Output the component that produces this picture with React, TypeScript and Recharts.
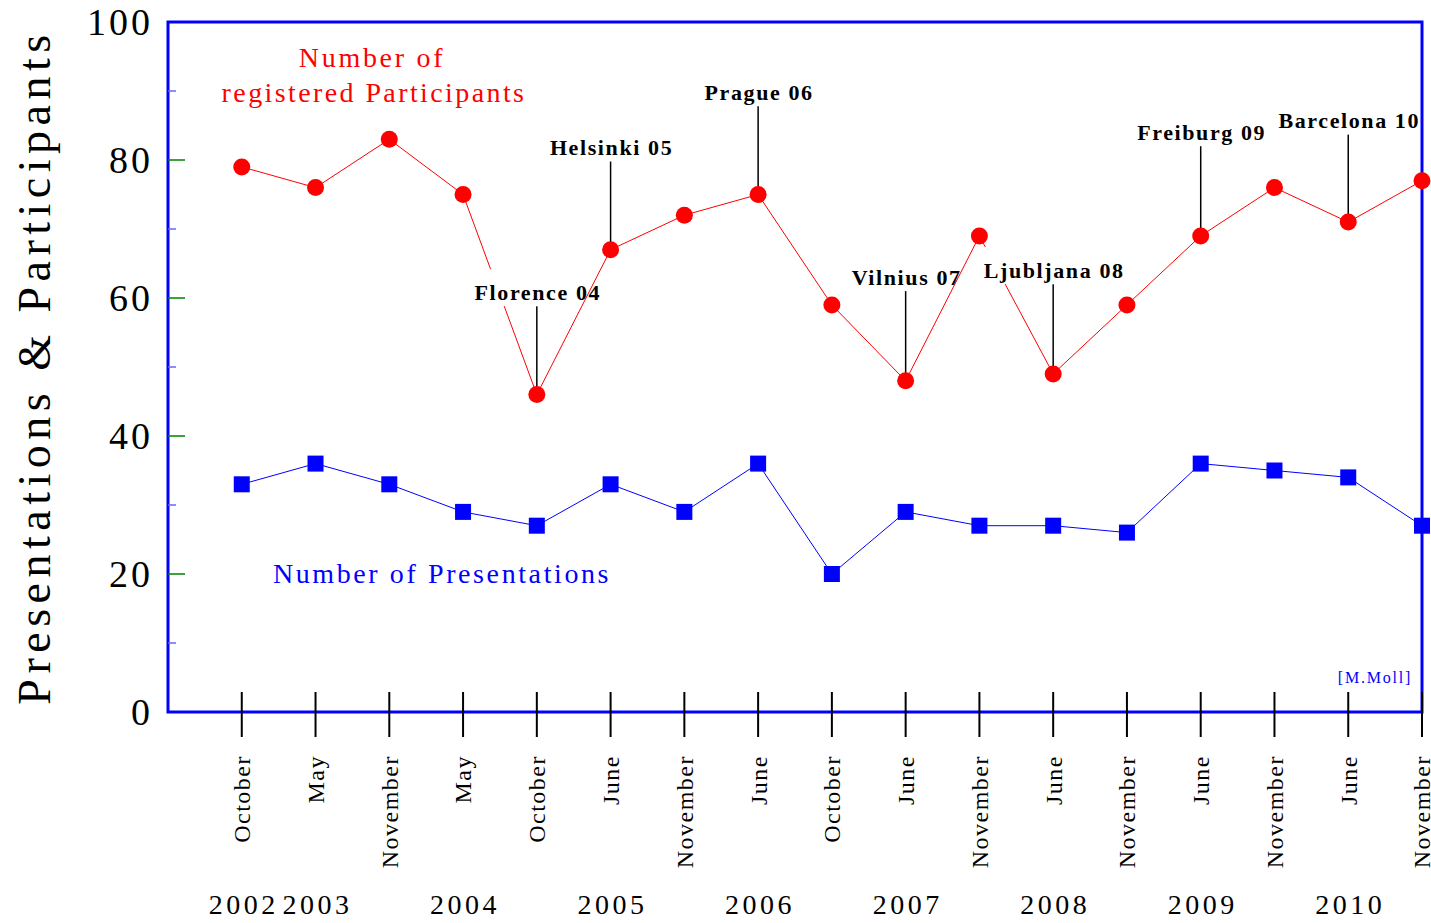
import React from "react";
import {
  ComposedChart,
  Line,
  Scatter,
  XAxis,
  YAxis,
  ReferenceArea,
  ReferenceLine,
} from "recharts";

const months = [
  "October", "May", "November", "May", "October", "June", "November", "June",
  "October", "June", "November", "June", "November", "June", "November", "June", "November",
];
const years = ["2002", "2003", "", "2004", "", "2005", "", "2006", "", "2007", "", "2008", "", "2009", "", "2010", ""];
const participants = [79, 76, 83, 75, 46, 67, 72, 75, 59, 48, 69, 49, 59, 69, 76, 71, 77];
const presentations = [33, 36, 33, 29, 27, 33, 29, 36, 20, 29, 27, 27, 26, 36, 35, 34, 27];

const meetingNames = ["Florence 04", "Helsinki 05", "Prague 06", "Vilnius 07", "Ljubljana 08", "Freiburg 09", "Barcelona 10"];
const meetingIndex = [4, 5, 7, 9, 11, 13, 15];
const meetingLabelLevel = [59.7, 80.7, 88.7, 61.9, 62.9, 82.9, 84.6];

const yTicks = [0, 10, 20, 30, 40, 50, 60, 70, 80, 90, 100];
const yLabels = [0, 20, 40, 60, 80, 100];
const xTicks = months.map((_, i) => i);

const chartData = months.map((m, i) => ({
  x: i,
  participants: participants[i],
  presentations: presentations[i],
}));

const annotationData = meetingNames.map((name, k) => ({
  x: meetingIndex[k],
  y: meetingLabelLevel[k],
  name,
}));

const SERIF = "'Liberation Serif', 'Times New Roman', serif";
const RED = "#ff0000";
const BLUE = "#0000ff";

const XTick = (props: any) => {
  const { x, y, payload } = props;
  const i = payload.value;
  return (
    <g>
      <line x1={x} x2={x} y1={y - 20} y2={y + 25} stroke="#000" strokeWidth={2} />
      <text
        transform={`translate(${x},${y + 43}) rotate(-90)`}
        textAnchor="end"
        dy="0.35em"
        fontFamily={SERIF}
        fontSize={24}
        letterSpacing={1.5}
        fill="#000"
      >
        {months[i]}
      </text>
      {years[i] ? (
        <text
          x={x + 2}
          y={y + 202}
          textAnchor="middle"
          fontFamily={SERIF}
          fontSize={28}
          letterSpacing={3.5}
          fill="#000"
        >
          {years[i]}
        </text>
      ) : null}
    </g>
  );
};

const YTick = (props: any) => {
  const { x, y, payload } = props;
  const v = payload.value;
  const isMajor = v % 20 === 0;
  const inner = v !== 0 && v !== 100;
  return (
    <g>
      {inner ? (
        <line
          x1={x}
          x2={x + (isMajor ? 17 : 8)}
          y1={y}
          y2={y}
          stroke={isMajor ? "#008000" : "#6666ff"}
          strokeWidth={1.5}
        />
      ) : null}
      {yLabels.includes(v) ? (
        <text
          x={x - 15}
          y={y}
          dy="0.35em"
          textAnchor="end"
          fontFamily={SERIF}
          fontSize={38}
          letterSpacing={3}
          fill="#000"
        >
          {v}
        </text>
      ) : null}
    </g>
  );
};

const RedDot = (props: any) => {
  const { cx, cy, index } = props;
  return <circle key={`r${index}`} cx={cx} cy={cy} r={8.5} fill={RED} stroke="none" />;
};

const BlueSquare = (props: any) => {
  const { cx, cy, index } = props;
  return <rect key={`b${index}`} x={cx - 8} y={cy - 8} width={16} height={16} fill={BLUE} stroke="none" />;
};

const Annotation = (props: any) => {
  const { cx, cy, payload } = props;
  const name: string = payload.name;
  const w = name.length * 11.6 + 6;
  const left = cx - w / 2 - 2;
  return (
    <g>
      <rect x={left} y={cy - 31} width={cx + 12 - left} height={37} fill="#fff" />
      <text
        x={cx + 1}
        y={cy}
        textAnchor="middle"
        fontFamily={SERIF}
        fontWeight="bold"
        fontSize={22}
        letterSpacing={1.6}
        fill="#000"
      >
        {name}
      </text>
    </g>
  );
};

const YTitle = (props: any) => {
  const vb = props.viewBox || { x: 0, y: 22, width: 168, height: 690 };
  const cx = 34;
  const cy = vb.y + vb.height / 2;
  return (
    <text
      transform={`translate(${cx},${cy}) rotate(-90)`}
      textAnchor="middle"
      dy="0.35em"
      fontFamily={SERIF}
      fontSize={46}
      letterSpacing={5.5}
      fill="#000"
    >
      Presentations &amp; Participants
    </text>
  );
};

export default function App() {
  return (
    <div style={{ position: "absolute", left: 0, top: 0, width: 1431, height: 923, background: "#fff" }}>
      <ComposedChart
        width={1431}
        height={923}
        data={chartData}
        margin={{ top: 22, right: 9, bottom: 0, left: 0 }}
      >
        <XAxis
          dataKey="x"
          type="number"
          domain={[-1, 16]}
          ticks={xTicks}
          height={211}
          axisLine={false}
          tickLine={false}
          tickSize={0}
          tickMargin={0}
          tick={<XTick />}
          interval={0}
        />
        <YAxis
          type="number"
          domain={[0, 100]}
          ticks={yTicks}
          width={168}
          axisLine={false}
          tickLine={false}
          tickSize={0}
          tickMargin={0}
          tick={<YTick />}
          interval={0}
          label={{ content: <YTitle /> }}
        />
        <ReferenceArea
          x1={-1}
          x2={16}
          y1={0}
          y2={100}
          fill="none"
          fillOpacity={0}
          stroke={BLUE}
          strokeWidth={3}
          ifOverflow="visible"
        />
        {meetingIndex.map((idx, k) => (
          <ReferenceLine
            key={`lead${k}`}
            segment={[
              { x: idx, y: participants[idx] + 1 },
              { x: idx, y: meetingLabelLevel[k] - 0.9 },
            ]}
            stroke="#000"
            strokeWidth={1.5}
          />
        ))}
        <Line
          dataKey="presentations"
          stroke={BLUE}
          strokeWidth={1}
          dot={<BlueSquare />}
          activeDot={false}
          isAnimationActive={false}
        />
        <Line
          dataKey="participants"
          stroke={RED}
          strokeWidth={1}
          dot={<RedDot />}
          activeDot={false}
          isAnimationActive={false}
        />
        <Scatter
          data={annotationData}
          dataKey="y"
          shape={<Annotation />}
          isAnimationActive={false}
        />
      </ComposedChart>
      <svg
        width={1431}
        height={923}
        style={{ position: "absolute", left: 0, top: 0, pointerEvents: "none" }}
      >
        <text x={372} y={67} textAnchor="middle" fontFamily={SERIF} fontSize={28} letterSpacing={2.7} fill={RED}>
          Number of
        </text>
        <text x={374} y={102} textAnchor="middle" fontFamily={SERIF} fontSize={28} letterSpacing={2.4} fill={RED}>
          registered Participants
        </text>
        <text x={442} y={583} textAnchor="middle" fontFamily={SERIF} fontSize={28} letterSpacing={2.6} fill={BLUE}>
          Number of Presentations
        </text>
        <text x={1375} y={683} textAnchor="middle" fontFamily={SERIF} fontSize={16} letterSpacing={1.8} fill={BLUE}>
          [M.Moll]
        </text>
      </svg>
    </div>
  );
}
